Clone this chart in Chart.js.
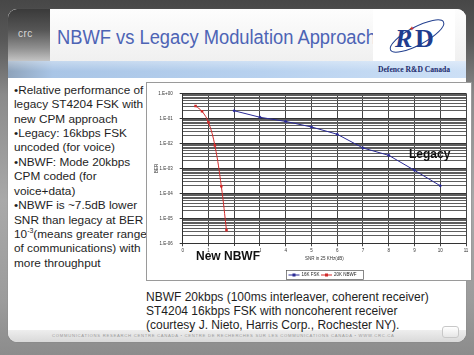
<!DOCTYPE html>
<html><head><meta charset="utf-8">
<script src="https://cdn.jsdelivr.net/npm/chart.js@4/dist/chart.umd.min.js"></script>
<style>
html,body{margin:0;padding:0;}
body{width:474px;height:355px;overflow:hidden;position:relative;font-family:"Liberation Sans",Arial,sans-serif;
background:linear-gradient(to bottom,#474747 0px,#585858 40px,#8a8a8a 95px,#a9a9a9 200px,#9c9c9c 300px,#8c8c8c 355px);}
.abs{position:absolute;}
#panel{left:8px;top:9px;width:458px;height:333px;border-radius:9px;background:#fff;overflow:hidden;box-shadow:0 0 1px 0 #666;}
#titlebar{left:0;top:0;width:458px;height:52px;background:linear-gradient(to bottom,#fdfdfd,#f0f0f0);}
#crcbox{left:0;top:0;width:42px;height:52px;background:linear-gradient(to bottom,#3a3a3a 0%,#555 40%,#8f8f8f 75%,#c4c4c4 100%);}
#crc{left:10px;top:19px;font-size:10px;color:#d8d8d8;letter-spacing:0.5px;}
#title{left:49px;top:18.5px;font-size:19.5px;line-height:19.5px;color:#4d64b5;white-space:nowrap;transform:scaleX(0.94);transform-origin:0 0;}
#logobox{left:365px;top:0;width:82px;height:52px;background:#fff;}
#band{left:0;top:52px;width:458px;height:17px;background:linear-gradient(to bottom,rgba(255,255,255,0.35),rgba(255,255,255,0) 60%),linear-gradient(to right,#8ea3bb 0,#a9c5e6 45px,#b7d1ef 55%,#cde0f6 100%);}
#drdc{left:370px;top:55.5px;font-family:"Liberation Serif","Times New Roman",serif;font-weight:bold;font-size:7.6px;line-height:9px;color:#1b2a6b;white-space:nowrap;}
#footer{left:0;top:321px;width:458px;height:12px;background:linear-gradient(to bottom,#eeeeee,#d9d9d9);}
#foottext{left:44px;top:324px;font-size:4.2px;line-height:5px;letter-spacing:0.72px;color:#9a9a9a;white-space:nowrap;}
#btn{left:434px;top:317px;width:15px;height:10px;border-radius:3px;background:linear-gradient(to bottom,#fff,#e6e6e6);border:1px solid #c8c8c8;}
#lefttext{left:14px;top:82.8px;font-size:11.8px;line-height:14.42px;color:#1e1e1e;white-space:nowrap;}
#lefttext sup{font-size:7px;line-height:0;vertical-align:5px;}
#bottomtext{left:146px;top:289.5px;font-size:12px;line-height:14px;color:#1e1e1e;white-space:nowrap;}
#chartbox{left:146px;top:82px;width:326px;height:199px;border:1px solid #9a9a9a;box-sizing:border-box;background:#fff;}
#c{position:absolute;left:146px;top:82px;}
#legacy{left:409px;top:148px;font-size:12px;line-height:12px;font-weight:bold;color:#111;}
#newnbwf{left:196px;top:250px;font-size:12px;line-height:12px;font-weight:bold;color:#111;white-space:nowrap;}
#newnbwf .cover{background:#fff;padding-top:3px;}
</style></head>
<body>
<div id="panel" class="abs">
  <div id="titlebar" class="abs"></div>
  <div id="crcbox" class="abs"><div id="crc" class="abs">crc</div></div>
  <div id="title" class="abs">NBWF vs Legacy Modulation Approach</div>
  <div id="logobox" class="abs">
    <svg width="82" height="52" style="position:absolute;left:0;top:0">
      <ellipse cx="44" cy="27" rx="30" ry="9" fill="none" stroke="#23408f" stroke-width="1" transform="rotate(-28 44 27)"/>
      <text x="22" y="38" font-family="Liberation Serif, serif" font-weight="bold" font-style="italic" font-size="26" fill="#1f3c8e">R</text>
      <text x="42" y="38" font-family="Liberation Serif, serif" font-weight="bold" font-size="26" fill="#1f3c8e">D</text>
      <text x="36" y="22" font-family="Liberation Sans, sans-serif" font-size="7" fill="#c03030">✦</text>
    </svg>
  </div>
  <div id="band" class="abs"></div>
  <div id="drdc" class="abs">Defence R&amp;D Canada</div>
  <div id="footer" class="abs"></div>
  <div id="foottext" class="abs">COMMUNICATIONS RESEARCH CENTRE CANADA • CENTRE DE RECHERCHES SUR LES COMMUNICATIONS CANADA • WWW.CRC.CA</div>
  <div id="btn" class="abs"></div>
</div>
<div id="lefttext" class="abs">•Relative performance of<br>legacy ST4204 FSK with<br>new CPM approach<br>•Legacy: 16kbps FSK<br>uncoded (for voice)<br>•NBWF: Mode 20kbps<br>CPM coded (for<br>voice+data)<br>•NBWF is ~7.5dB lower<br>SNR than legacy at BER<br>10<sup>-3</sup>(means greater range<br>of communications) with<br>more throughput</div>
<div id="chartbox" class="abs"></div>
<canvas id="c" width="326" height="199"></canvas>
<div id="legacy" class="abs">Legacy</div>
<div id="newnbwf" class="abs">New <span class="cover">NBWF</span></div>
<div id="bottomtext" class="abs">NBWF 20kbps (100ms interleaver, coherent receiver)<br>ST4204 16kbps FSK with noncoherent receiver<br>(courtesy J. Nieto, Harris Corp., Rochester NY).</div>
<script>
// ---- data ----
const seriesNames = ['16K FSK', '20K NBWF'];
const legacySNR = [2, 3, 4, 5, 6, 7, 8, 9, 10];
const legacyBER = [0.2, 0.11, 0.075, 0.045, 0.023, 0.0065, 0.0033, 0.00083, 0.0002];
const nbwfSNR = [0.5, 0.75, 1.0, 1.25, 1.5, 1.7];
const nbwfBER = [0.31, 0.19, 0.069, 0.0081, 0.00019, 0.0000033];
const xTickLabels = ['0','1','2','3','4','5','6','7','8','9','10','11'];
const yDecades = [1e-6, 1e-5, 1e-4, 1e-3, 1e-2, 1e-1, 1];
const yTickLabels = ['1.E-06','1.E-05','1.E-04','1.E-03','1.E-02','1.E-01','1.E+00'];
const yMinorMultipliers = [2, 3, 4, 5, 6, 7, 8, 9];
const xTitle = 'SNR in 25 KHz(dB)';
const yTitle = 'BER';

const FONT = '"Liberation Sans", Arial, sans-serif';
const decadeIndex = v => yDecades.findIndex(d => Math.abs(v / d - 1) < 1e-6);

const yTickValues = [];
yDecades.forEach((d, i) => {
  yTickValues.push(d);
  if (i < yDecades.length - 1) yMinorMultipliers.forEach(m => yTickValues.push(d * m));
});

const boxLegend = {
  id: 'boxLegend',
  afterDraw(chart) {
    const { ctx, chartArea } = chart;
    const w = 77, h = 9;
    const cx = (chartArea.left + chartArea.right) / 2;
    const top = chartArea.bottom + 26.5;
    ctx.save();
    ctx.strokeStyle = '#555';
    ctx.lineWidth = 0.7;
    ctx.strokeRect(Math.round(cx - w / 2) + 0.5, Math.round(top) + 0.5, w, h);
    ctx.font = '4.5px ' + FONT;
    ctx.textBaseline = 'middle';
    let x = Math.round(cx - w / 2) + 2.5;
    const y = Math.round(top) + 0.5 + h / 2;
    chart.data.datasets.forEach(ds => {
      ctx.strokeStyle = ds.borderColor;
      ctx.lineWidth = 1;
      ctx.beginPath(); ctx.moveTo(x, y); ctx.lineTo(x + 11, y); ctx.stroke();
      ctx.fillStyle = ds.borderColor;
      ctx.fillRect(x + 4, y - 1.5, 3, 3);
      ctx.fillStyle = '#222';
      ctx.fillText(ds.label, x + 13, y);
      x += 13 + ctx.measureText(ds.label).width + 1.5;
    });
    ctx.restore();
  }
};

new Chart(document.getElementById('c'), {
  type: 'line',
  data: {
    datasets: [
      { label: seriesNames[0], data: legacySNR.map((x, i) => ({ x, y: legacyBER[i] })),
        borderColor: '#2b2b96', backgroundColor: '#2b2b96', borderWidth: 1,
        pointStyle: 'rectRot', pointRadius: 1.8, pointBorderWidth: 0, tension: 0 },
      { label: seriesNames[1], data: nbwfSNR.map((x, i) => ({ x, y: nbwfBER[i] })),
        borderColor: '#d22a2a', backgroundColor: '#d22a2a', borderWidth: 1,
        pointStyle: 'rect', pointRadius: 1.8, pointBorderWidth: 0, tension: 0.4 }
    ]
  },
  options: {
    responsive: false, animation: false, devicePixelRatio: 1,
    layout: { padding: { left: 0, right: 6, top: 11.3, bottom: 19.3 } },
    plugins: { legend: { display: false }, tooltip: { enabled: false } },
    scales: {
      x: {
        type: 'linear', min: 0, max: 11,
        afterBuildTicks: s => { s.ticks = xTickLabels.map((_, i) => ({ value: i })); },
        afterFit: s => { s.height = 18.4; },
        ticks: { autoSkip: false, maxRotation: 0, padding: 2, color: '#333',
          font: { size: 4.5, family: FONT }, callback: v => xTickLabels[v] },
        grid: { color: '#444', lineWidth: 1, tickLength: 3, drawTicks: true },
        border: { display: false },
        title: { display: true, text: xTitle, color: '#333', font: { size: 4.5, family: FONT }, padding: { top: 0, bottom: 0 } }
      },
      y: {
        type: 'logarithmic', min: 1e-6, max: 1,
        afterBuildTicks: s => { s.ticks = yTickValues.map(v => ({ value: v, major: decadeIndex(v) >= 0 })); },
        afterFit: s => { s.width = 36.7; },
        ticks: { autoSkip: false, padding: 7, color: '#333', font: { size: 4.5, family: FONT },
          callback: v => { const i = decadeIndex(v); return i >= 0 ? yTickLabels[i] : ''; } },
        grid: { lineWidth: 1, tickLength: 3,
          color: c => (c.tick && decadeIndex(c.tick.value) >= 0) ? '#333' : '#5e5e5e',
          tickColor: c => (c.tick && decadeIndex(c.tick.value) >= 0) ? '#333' : 'rgba(0,0,0,0)' },
        border: { color: '#333' },
        title: { display: true, text: yTitle, color: '#333', font: { size: 4.5, family: FONT }, padding: { top: 8.3, bottom: 0 } }
      }
    }
  },
  plugins: [boxLegend]
});
</script>
</body></html>
